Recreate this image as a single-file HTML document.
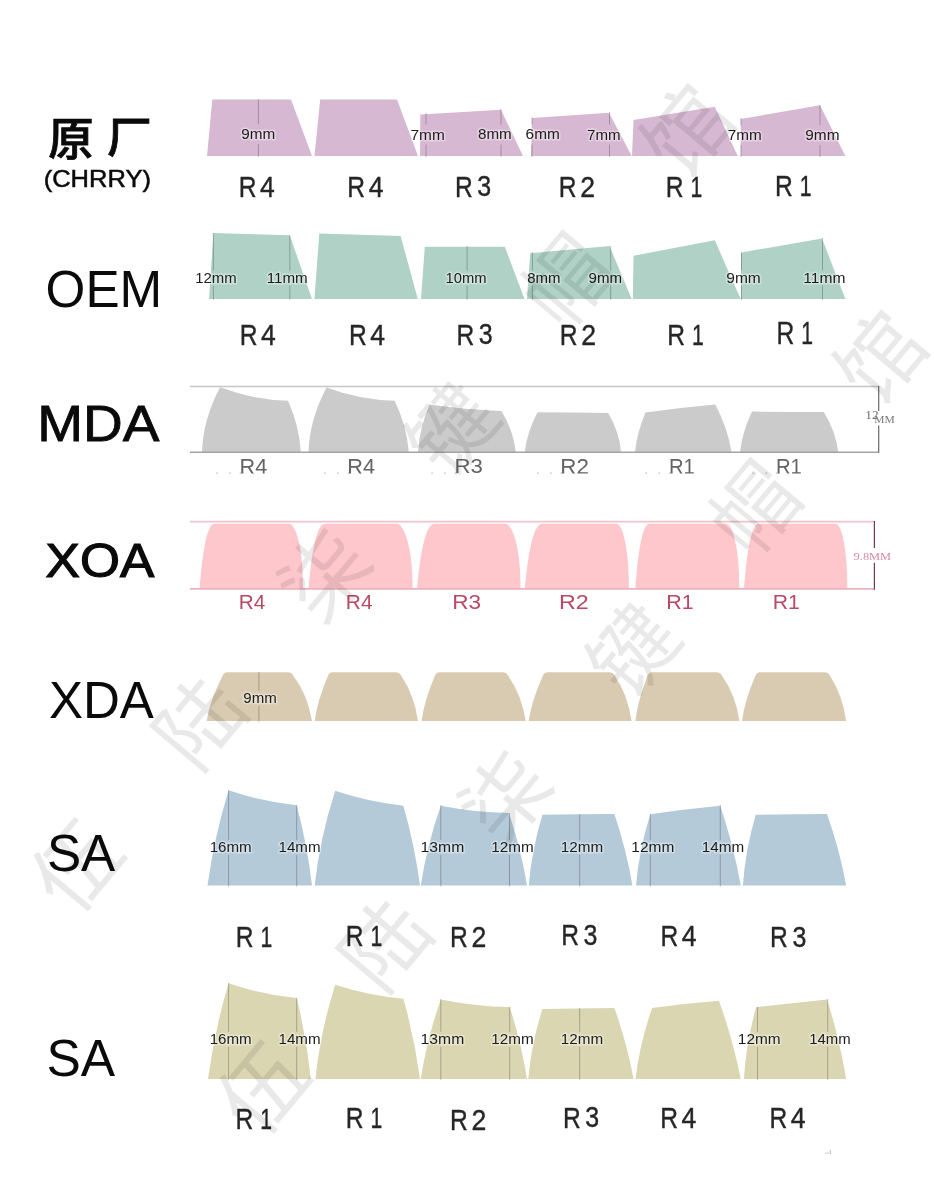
<!DOCTYPE html>
<html><head><meta charset="utf-8"><style>
html,body{margin:0;padding:0;background:#fff;}
body{width:934px;height:1200px;overflow:hidden;}
svg{display:block;}
</style></head><body>
<svg width="934" height="1200" viewBox="0 0 934 1200">
<defs><clipPath id="mdaclip"><rect x="0" y="0" width="934" height="473.4"/></clipPath></defs>
<rect width="934" height="1200" fill="#fff"/>
<path d="M207,156 L212.3,99.4 L291,99.4 L312,156 Z" fill="#d7b8d2"/>
<path d="M314.5,156 L320.2,99.4 L397,99.4 L418,156 Z" fill="#d7b8d2"/>
<path d="M420,156 L420.3,114.6 L501,109.7 L523,156 Z" fill="#d7b8d2"/>
<path d="M531,156 L532,118 L609,112.7 L631.7,156 Z" fill="#d7b8d2"/>
<path d="M632,156 L633.5,120 L714.8,106.7 L737.7,156 Z" fill="#d7b8d2"/>
<path d="M740.7,156 L740.7,119 L820,105.3 L845.4,156 Z" fill="#d7b8d2"/>
<path d="M209,299 L213.4,233.1 L289.8,235.3 L312,299 Z" fill="#b0d1c5"/>
<path d="M314.4,299 L319.3,233.6 L400.6,236 L417.8,299 Z" fill="#b0d1c5"/>
<path d="M421,299 L424.8,246.7 L504.8,246.7 L524.5,299 Z" fill="#b0d1c5"/>
<path d="M527,299 L530.2,253.3 L609.5,246 L631.7,299 Z" fill="#b0d1c5"/>
<path d="M632.8,299 L633.5,255.8 L714.8,240.3 L740.7,299 Z" fill="#b0d1c5"/>
<path d="M741,299 L741,252.6 L822,238.5 L845.4,299 Z" fill="#b0d1c5"/>
<path d="M202,452 Q203,419.6 220,387.3 Q254,400 288,400.7 Q299.4,426.4 300.8,452 Z" fill="#cbcbcb"/>
<path d="M308.5,452 Q309.5,419.8 326.5,387.5 Q360.6,400.1 394.7,400.7 Q406.8,426.4 408.8,452 Z" fill="#cbcbcb"/>
<path d="M418,452 Q419.4,428.3 429.6,404.6 Q465.6,409.8 501.5,411 Q513.6,431.5 515.7,452 Z" fill="#cbcbcb"/>
<path d="M524.7,452 Q527.1,432.1 537.5,412.3 Q572.9,412.6 608.2,413 Q619.6,432.5 621,452 Z" fill="#cbcbcb"/>
<path d="M635,452 Q637,432.2 645.5,412.5 Q680.4,407.4 715.3,404.4 Q727.8,428.2 731.5,452 Z" fill="#cbcbcb"/>
<path d="M740,452 Q742.4,431.8 752,411.6 Q787.9,411.8 823.8,411.9 Q836,431.9 838.2,452 Z" fill="#cbcbcb"/>
<path d="M199.6,588.6 C201.4,565.3 205.5,523.8 214.4,523.8 L289,523.8 C295.3,523.8 303,545.2 303,588.6 Z" fill="#fdc7cc"/>
<path d="M308.5,588.6 C310.5,565.3 315.1,523.8 325,523.8 L396.5,523.8 C403.7,523.8 412.6,545.2 412.6,588.6 Z" fill="#fdc7cc"/>
<path d="M417,588.6 C419.1,565.3 424,523.8 434.4,523.8 L505,523.8 C512,523.8 520.5,545.2 520.5,588.6 Z" fill="#fdc7cc"/>
<path d="M524.8,588.6 C526.9,565.3 531.8,523.8 542.2,523.8 L616.4,523.8 C622,523.8 628.9,545.2 628.9,588.6 Z" fill="#fdc7cc"/>
<path d="M635.3,588.6 C637,565.3 640.9,523.8 649.4,523.8 L726,523.8 C732,523.8 739.3,545.2 739.3,588.6 Z" fill="#fdc7cc"/>
<path d="M744,588.6 C745.8,565.3 749.8,523.8 758.6,523.8 L835.7,523.8 C840.9,523.8 847.3,545.2 847.3,588.6 Z" fill="#fdc7cc"/>
<path d="M206.7,721 Q209.5,701.5 222.8,675.3 Q224,672.3 227.4,672.3 L287.5,672.3 Q291.5,672.3 293,675.3 Q307.9,695.2 312,721 Z" fill="#d9cbb1"/>
<path d="M314.7,721 Q317.1,701.5 328.2,675.3 Q329.4,672.3 332.8,672.3 L395.5,672.3 Q399.5,672.3 401,675.3 Q414.3,695.2 418,721 Z" fill="#d9cbb1"/>
<path d="M421.6,721 Q424,701.5 435.1,675.3 Q436.3,672.3 439.7,672.3 L502.4,672.3 Q506.4,672.3 507.9,675.3 Q521.8,695.2 525.7,721 Z" fill="#d9cbb1"/>
<path d="M528.8,721 Q531.3,701.5 543.1,675.3 Q544.3,672.3 547.7,672.3 L609,672.3 Q613,672.3 614.5,675.3 Q627.9,695.2 631.6,721 Z" fill="#d9cbb1"/>
<path d="M635.4,721 Q637.6,701.5 647.7,675.3 Q648.9,672.3 652.3,672.3 L716.3,672.3 Q720.3,672.3 721.8,675.3 Q735.7,695.2 739.5,721 Z" fill="#d9cbb1"/>
<path d="M742,721 Q744.4,701.5 755.6,675.3 Q756.8,672.3 760.2,672.3 L824.2,672.3 Q828.2,672.3 829.7,675.3 Q842.6,695.2 846.2,721 Z" fill="#d9cbb1"/>
<path d="M207.5,885.4 Q214.1,837.8 228.6,790.3 Q262.6,801.8 296.7,805.2 Q307.4,845.3 312,885.4 Z" fill="#b4cad8"/>
<path d="M314.7,885.4 Q319.9,838.1 335.2,790.8 Q369.3,802.2 403.4,805.7 Q414.7,845.5 420,885.4 Z" fill="#b4cad8"/>
<path d="M420.8,885.4 Q426.8,845.5 440.8,805.7 Q474.9,812.4 509,813 Q521,849.2 527,885.4 Z" fill="#b4cad8"/>
<path d="M528.8,885.4 Q531.6,850 542.4,814.7 Q578.4,814.4 614.4,814 Q626.4,849.7 632.4,885.4 Z" fill="#b4cad8"/>
<path d="M636,885.4 Q639.1,849.8 650.3,814.2 Q685.3,809 720.3,805.7 Q733.5,845.5 740.8,885.4 Z" fill="#b4cad8"/>
<path d="M742.9,885.4 Q745.3,850 755.7,814.7 Q791.4,814.4 827,814 Q839.6,849.7 846.2,885.4 Z" fill="#b4cad8"/>
<path d="M208,1079 Q214.3,1031.1 228.6,983.2 Q262.6,994.7 296.7,998.1 Q306.8,1038.5 310.8,1079 Z" fill="#dad6b2"/>
<path d="M315.4,1079 Q320.3,1031.9 335.2,984.8 Q369.3,995.8 403.4,998.7 Q414.7,1038.8 420,1079 Z" fill="#dad6b2"/>
<path d="M420.8,1079 Q426.8,1039.2 440.8,999.4 Q475.2,1006.2 509.7,1007.1 Q521.4,1043 527,1079 Z" fill="#dad6b2"/>
<path d="M528.3,1079 Q531.3,1044 542.4,1009 Q578.4,1008.5 614.4,1008 Q627,1043.5 633.6,1079 Z" fill="#dad6b2"/>
<path d="M635.4,1079 Q639.8,1043.5 652.1,1007.9 Q685.5,1003.3 719,1000.7 Q732.9,1039.8 740.8,1079 Z" fill="#dad6b2"/>
<path d="M743.9,1079 Q746,1043 756.2,1007.1 Q791.6,1003.2 827,999.4 Q839.6,1039.2 846.2,1079 Z" fill="#dad6b2"/>
<line x1="190" y1="386.6" x2="878.7" y2="386.6" stroke="#c6c6c6" stroke-width="1.5"/>
<line x1="190" y1="452.2" x2="878.7" y2="452.2" stroke="#a3a3a3" stroke-width="1.5"/>
<line x1="878.7" y1="386" x2="878.7" y2="411" stroke="#6a6a6a" stroke-width="1.2"/>
<line x1="878.7" y1="425.5" x2="878.7" y2="452.8" stroke="#6a6a6a" stroke-width="1.2"/>
<rect x="216.2" y="472.6" width="1.6" height="1" fill="#b0b0b0"/>
<rect x="229.2" y="472.6" width="1.6" height="1" fill="#b0b0b0"/>
<rect x="239.7" y="472.6" width="1.6" height="1" fill="#b0b0b0"/>
<rect x="324" y="472.6" width="1.6" height="1" fill="#b0b0b0"/>
<rect x="337" y="472.6" width="1.6" height="1" fill="#b0b0b0"/>
<rect x="347.5" y="472.6" width="1.6" height="1" fill="#b0b0b0"/>
<rect x="431.3" y="472.6" width="1.6" height="1" fill="#b0b0b0"/>
<rect x="444.3" y="472.6" width="1.6" height="1" fill="#b0b0b0"/>
<rect x="454.8" y="472.6" width="1.6" height="1" fill="#b0b0b0"/>
<rect x="537" y="472.6" width="1.6" height="1" fill="#b0b0b0"/>
<rect x="550" y="472.6" width="1.6" height="1" fill="#b0b0b0"/>
<rect x="560.5" y="472.6" width="1.6" height="1" fill="#b0b0b0"/>
<rect x="645.5" y="472.6" width="1.6" height="1" fill="#b0b0b0"/>
<rect x="658.5" y="472.6" width="1.6" height="1" fill="#b0b0b0"/>
<rect x="669" y="472.6" width="1.6" height="1" fill="#b0b0b0"/>
<rect x="752.5" y="472.6" width="1.6" height="1" fill="#b0b0b0"/>
<rect x="765.5" y="472.6" width="1.6" height="1" fill="#b0b0b0"/>
<rect x="776" y="472.6" width="1.6" height="1" fill="#b0b0b0"/>
<rect x="825" y="1152.6" width="4" height="1.2" fill="#d0d0d0"/>
<rect x="829.8" y="1150" width="1" height="4" fill="#b8b8b8"/>
<line x1="190" y1="521.6" x2="874.4" y2="521.6" stroke="#f0c3cb" stroke-width="1.6"/>
<line x1="190" y1="588.9" x2="874.4" y2="588.9" stroke="#eab3bd" stroke-width="1.6"/>
<line x1="874.4" y1="521" x2="874.4" y2="548.1" stroke="#6e3b52" stroke-width="1.2"/>
<line x1="874.4" y1="562.7" x2="874.4" y2="589.7" stroke="#6e3b52" stroke-width="1.2"/>
<line x1="258.4" y1="99" x2="258.4" y2="124" stroke="rgba(0,0,0,0.24)" stroke-width="1"/>
<line x1="258.4" y1="144" x2="258.4" y2="157" stroke="rgba(0,0,0,0.24)" stroke-width="1"/>
<line x1="426" y1="113" x2="426" y2="124.5" stroke="rgba(0,0,0,0.24)" stroke-width="1"/>
<line x1="426" y1="144.5" x2="426" y2="157" stroke="rgba(0,0,0,0.24)" stroke-width="1"/>
<line x1="501" y1="109" x2="501" y2="124.5" stroke="rgba(0,0,0,0.24)" stroke-width="1"/>
<line x1="501" y1="144.5" x2="501" y2="157" stroke="rgba(0,0,0,0.24)" stroke-width="1"/>
<line x1="532" y1="117" x2="532" y2="124.5" stroke="rgba(0,0,0,0.24)" stroke-width="1"/>
<line x1="532" y1="144.5" x2="532" y2="157" stroke="rgba(0,0,0,0.24)" stroke-width="1"/>
<line x1="609.5" y1="112" x2="609.5" y2="124.5" stroke="rgba(0,0,0,0.24)" stroke-width="1"/>
<line x1="609.5" y1="144.5" x2="609.5" y2="157" stroke="rgba(0,0,0,0.24)" stroke-width="1"/>
<line x1="741" y1="118" x2="741" y2="125" stroke="rgba(0,0,0,0.24)" stroke-width="1"/>
<line x1="741" y1="145" x2="741" y2="157" stroke="rgba(0,0,0,0.24)" stroke-width="1"/>
<line x1="820" y1="105" x2="820" y2="125" stroke="rgba(0,0,0,0.24)" stroke-width="1"/>
<line x1="820" y1="145" x2="820" y2="157" stroke="rgba(0,0,0,0.24)" stroke-width="1"/>
<line x1="213.4" y1="233" x2="213.4" y2="270.5" stroke="rgba(0,0,0,0.24)" stroke-width="1"/>
<line x1="213.4" y1="285.5" x2="213.4" y2="300" stroke="rgba(0,0,0,0.24)" stroke-width="1"/>
<line x1="289.8" y1="235" x2="289.8" y2="270.5" stroke="rgba(0,0,0,0.24)" stroke-width="1"/>
<line x1="289.8" y1="285.5" x2="289.8" y2="300" stroke="rgba(0,0,0,0.24)" stroke-width="1"/>
<line x1="741.5" y1="252.6" x2="741.5" y2="270.5" stroke="rgba(0,0,0,0.24)" stroke-width="1"/>
<line x1="741.5" y1="285.5" x2="741.5" y2="300" stroke="rgba(0,0,0,0.24)" stroke-width="1"/>
<line x1="467.1" y1="246" x2="467.1" y2="270.5" stroke="rgba(0,0,0,0.24)" stroke-width="1"/>
<line x1="467.1" y1="285.5" x2="467.1" y2="300" stroke="rgba(0,0,0,0.24)" stroke-width="1"/>
<line x1="532.4" y1="252" x2="532.4" y2="270.5" stroke="rgba(0,0,0,0.24)" stroke-width="1"/>
<line x1="532.4" y1="285.5" x2="532.4" y2="300" stroke="rgba(0,0,0,0.24)" stroke-width="1"/>
<line x1="610.7" y1="246" x2="610.7" y2="270.5" stroke="rgba(0,0,0,0.24)" stroke-width="1"/>
<line x1="610.7" y1="285.5" x2="610.7" y2="300" stroke="rgba(0,0,0,0.24)" stroke-width="1"/>
<line x1="822.5" y1="238" x2="822.5" y2="270.5" stroke="rgba(0,0,0,0.24)" stroke-width="1"/>
<line x1="822.5" y1="285.5" x2="822.5" y2="300" stroke="rgba(0,0,0,0.24)" stroke-width="1"/>
<line x1="258.9" y1="672" x2="258.9" y2="691" stroke="rgba(0,0,0,0.24)" stroke-width="1"/>
<line x1="258.9" y1="706" x2="258.9" y2="722" stroke="rgba(0,0,0,0.24)" stroke-width="1"/>
<line x1="228.6" y1="790" x2="228.6" y2="839.9" stroke="rgba(0,0,0,0.24)" stroke-width="1"/>
<line x1="228.6" y1="854.9" x2="228.6" y2="886.5" stroke="rgba(0,0,0,0.24)" stroke-width="1"/>
<line x1="296.7" y1="805" x2="296.7" y2="839.9" stroke="rgba(0,0,0,0.24)" stroke-width="1"/>
<line x1="296.7" y1="854.9" x2="296.7" y2="886.5" stroke="rgba(0,0,0,0.24)" stroke-width="1"/>
<line x1="440.8" y1="805" x2="440.8" y2="839.9" stroke="rgba(0,0,0,0.24)" stroke-width="1"/>
<line x1="440.8" y1="854.9" x2="440.8" y2="886.5" stroke="rgba(0,0,0,0.24)" stroke-width="1"/>
<line x1="509.5" y1="813" x2="509.5" y2="839.9" stroke="rgba(0,0,0,0.24)" stroke-width="1"/>
<line x1="509.5" y1="854.9" x2="509.5" y2="886.5" stroke="rgba(0,0,0,0.24)" stroke-width="1"/>
<line x1="579.7" y1="814" x2="579.7" y2="839.9" stroke="rgba(0,0,0,0.24)" stroke-width="1"/>
<line x1="579.7" y1="854.9" x2="579.7" y2="886.5" stroke="rgba(0,0,0,0.24)" stroke-width="1"/>
<line x1="650.3" y1="814" x2="650.3" y2="839.9" stroke="rgba(0,0,0,0.24)" stroke-width="1"/>
<line x1="650.3" y1="854.9" x2="650.3" y2="886.5" stroke="rgba(0,0,0,0.24)" stroke-width="1"/>
<line x1="720.3" y1="805" x2="720.3" y2="839.9" stroke="rgba(0,0,0,0.24)" stroke-width="1"/>
<line x1="720.3" y1="854.9" x2="720.3" y2="886.5" stroke="rgba(0,0,0,0.24)" stroke-width="1"/>
<line x1="228.6" y1="983" x2="228.6" y2="1031.8" stroke="rgba(0,0,0,0.24)" stroke-width="1"/>
<line x1="228.6" y1="1046.8" x2="228.6" y2="1080" stroke="rgba(0,0,0,0.24)" stroke-width="1"/>
<line x1="296.7" y1="998" x2="296.7" y2="1031.8" stroke="rgba(0,0,0,0.24)" stroke-width="1"/>
<line x1="296.7" y1="1046.8" x2="296.7" y2="1080" stroke="rgba(0,0,0,0.24)" stroke-width="1"/>
<line x1="440.8" y1="999" x2="440.8" y2="1031.8" stroke="rgba(0,0,0,0.24)" stroke-width="1"/>
<line x1="440.8" y1="1046.8" x2="440.8" y2="1080" stroke="rgba(0,0,0,0.24)" stroke-width="1"/>
<line x1="509.7" y1="1007" x2="509.7" y2="1031.8" stroke="rgba(0,0,0,0.24)" stroke-width="1"/>
<line x1="509.7" y1="1046.8" x2="509.7" y2="1080" stroke="rgba(0,0,0,0.24)" stroke-width="1"/>
<line x1="579.7" y1="1008" x2="579.7" y2="1031.8" stroke="rgba(0,0,0,0.24)" stroke-width="1"/>
<line x1="579.7" y1="1046.8" x2="579.7" y2="1080" stroke="rgba(0,0,0,0.24)" stroke-width="1"/>
<line x1="757.5" y1="1007" x2="757.5" y2="1031.8" stroke="rgba(0,0,0,0.24)" stroke-width="1"/>
<line x1="757.5" y1="1046.8" x2="757.5" y2="1080" stroke="rgba(0,0,0,0.24)" stroke-width="1"/>
<line x1="827.7" y1="999" x2="827.7" y2="1031.8" stroke="rgba(0,0,0,0.24)" stroke-width="1"/>
<line x1="827.7" y1="1046.8" x2="827.7" y2="1080" stroke="rgba(0,0,0,0.24)" stroke-width="1"/>
<text transform="translate(48.29 155.77) scale(1.007 1)" font-family="'Liberation Sans', 'Noto Sans CJK SC', sans-serif" font-weight="500" font-size="45.14" fill="#0a0a0a" stroke="#0a0a0a" stroke-width="0.80">原</text>
<text transform="translate(107.00 153.06) scale(1.037 1)" font-family="'Liberation Sans', 'Noto Sans CJK SC', sans-serif" font-weight="500" font-size="43.09" fill="#0a0a0a" stroke="#0a0a0a" stroke-width="0.80">厂</text>
<text transform="translate(43.65 187.06) scale(1.077 1)" font-family="'Liberation Sans', sans-serif" font-weight="400" font-size="23.71" fill="#0a0a0a" stroke="#0a0a0a" stroke-width="0.50">(CHRRY)</text>
<text transform="translate(45.60 307.39) scale(0.987 1)" font-family="'Liberation Sans', sans-serif" font-weight="400" font-size="51.90" fill="#0a0a0a">OEM</text>
<text transform="translate(37.20 441.30) scale(1.118 1)" font-family="'Liberation Sans', sans-serif" font-weight="400" font-size="49.21" fill="#0a0a0a" stroke="#0a0a0a" stroke-width="0.80">MDA</text>
<text transform="translate(45.60 577.44) scale(1.062 1)" font-family="'Liberation Sans', sans-serif" font-weight="400" font-size="48.42" fill="#0a0a0a" stroke="#0a0a0a" stroke-width="1.20">XOA</text>
<text transform="translate(48.90 718.00) scale(0.986 1)" font-family="'Liberation Sans', sans-serif" font-weight="400" font-size="51.77" fill="#0a0a0a">XDA</text>
<text transform="translate(46.90 870.89) scale(0.994 1)" font-family="'Liberation Sans', sans-serif" font-weight="400" font-size="51.62" fill="#0a0a0a">SA</text>
<text transform="translate(46.39 1075.98) scale(0.984 1)" font-family="'Liberation Sans', sans-serif" font-weight="400" font-size="52.31" fill="#0a0a0a">SA</text>
<text transform="translate(238.68 196.50) scale(0.816 1)" font-family="'Liberation Sans', sans-serif" font-weight="400" font-size="30.15" fill="#262626" stroke="#262626" stroke-width="0.40">R</text>
<text transform="translate(260.08 196.50) scale(0.881 1)" font-family="'Liberation Sans', sans-serif" font-weight="400" font-size="30.15" fill="#262626" stroke="#262626" stroke-width="0.40">4</text>
<text transform="translate(347.28 196.50) scale(0.816 1)" font-family="'Liberation Sans', sans-serif" font-weight="400" font-size="30.15" fill="#262626" stroke="#262626" stroke-width="0.40">R</text>
<text transform="translate(368.68 196.50) scale(0.881 1)" font-family="'Liberation Sans', sans-serif" font-weight="400" font-size="30.15" fill="#262626" stroke="#262626" stroke-width="0.40">4</text>
<text transform="translate(454.88 196.50) scale(0.816 1)" font-family="'Liberation Sans', sans-serif" font-weight="400" font-size="30.15" fill="#262626" stroke="#262626" stroke-width="0.40">R</text>
<text transform="translate(477.22 196.04) scale(0.847 1)" font-family="'Liberation Sans', sans-serif" font-weight="400" font-size="29.50" fill="#262626" stroke="#262626" stroke-width="0.40">3</text>
<text transform="translate(558.68 196.50) scale(0.816 1)" font-family="'Liberation Sans', sans-serif" font-weight="400" font-size="30.15" fill="#262626" stroke="#262626" stroke-width="0.40">R</text>
<text transform="translate(580.15 196.50) scale(0.884 1)" font-family="'Liberation Sans', sans-serif" font-weight="400" font-size="30.15" fill="#262626" stroke="#262626" stroke-width="0.40">2</text>
<text transform="translate(665.68 196.50) scale(0.816 1)" font-family="'Liberation Sans', sans-serif" font-weight="400" font-size="30.15" fill="#262626" stroke="#262626" stroke-width="0.40">R</text>
<text transform="translate(690.48 196.50) scale(0.703 1)" font-family="'Liberation Sans', sans-serif" font-weight="400" font-size="30.15" fill="#262626" stroke="#262626" stroke-width="0.40">1</text>
<text transform="translate(774.88 195.80) scale(0.816 1)" font-family="'Liberation Sans', sans-serif" font-weight="400" font-size="30.15" fill="#262626" stroke="#262626" stroke-width="0.40">R</text>
<text transform="translate(799.68 195.80) scale(0.703 1)" font-family="'Liberation Sans', sans-serif" font-weight="400" font-size="30.15" fill="#262626" stroke="#262626" stroke-width="0.40">1</text>
<text transform="translate(239.68 344.80) scale(0.820 1)" font-family="'Liberation Sans', sans-serif" font-weight="400" font-size="30.01" fill="#262626" stroke="#262626" stroke-width="0.40">R</text>
<text transform="translate(261.08 344.80) scale(0.885 1)" font-family="'Liberation Sans', sans-serif" font-weight="400" font-size="30.01" fill="#262626" stroke="#262626" stroke-width="0.40">4</text>
<text transform="translate(348.88 344.80) scale(0.820 1)" font-family="'Liberation Sans', sans-serif" font-weight="400" font-size="30.01" fill="#262626" stroke="#262626" stroke-width="0.40">R</text>
<text transform="translate(370.28 344.80) scale(0.885 1)" font-family="'Liberation Sans', sans-serif" font-weight="400" font-size="30.01" fill="#262626" stroke="#262626" stroke-width="0.40">4</text>
<text transform="translate(456.48 344.80) scale(0.820 1)" font-family="'Liberation Sans', sans-serif" font-weight="400" font-size="30.01" fill="#262626" stroke="#262626" stroke-width="0.40">R</text>
<text transform="translate(478.82 344.34) scale(0.851 1)" font-family="'Liberation Sans', sans-serif" font-weight="400" font-size="29.36" fill="#262626" stroke="#262626" stroke-width="0.40">3</text>
<text transform="translate(559.68 344.80) scale(0.820 1)" font-family="'Liberation Sans', sans-serif" font-weight="400" font-size="30.01" fill="#262626" stroke="#262626" stroke-width="0.40">R</text>
<text transform="translate(581.15 344.80) scale(0.889 1)" font-family="'Liberation Sans', sans-serif" font-weight="400" font-size="30.01" fill="#262626" stroke="#262626" stroke-width="0.40">2</text>
<text transform="translate(667.28 344.80) scale(0.820 1)" font-family="'Liberation Sans', sans-serif" font-weight="400" font-size="30.01" fill="#262626" stroke="#262626" stroke-width="0.40">R</text>
<text transform="translate(692.08 344.80) scale(0.706 1)" font-family="'Liberation Sans', sans-serif" font-weight="400" font-size="30.01" fill="#262626" stroke="#262626" stroke-width="0.40">1</text>
<text transform="translate(776.48 344.00) scale(0.809 1)" font-family="'Liberation Sans', sans-serif" font-weight="400" font-size="30.44" fill="#262626" stroke="#262626" stroke-width="0.40">R</text>
<text transform="translate(801.28 344.00) scale(0.696 1)" font-family="'Liberation Sans', sans-serif" font-weight="400" font-size="30.44" fill="#262626" stroke="#262626" stroke-width="0.40">1</text>
<g clip-path="url(#mdaclip)"><text transform="translate(239.50 473.60) scale(1.017 1)" font-family="'Liberation Sans', sans-serif" font-weight="400" font-size="21.33" fill="#646464">R4</text></g>
<g clip-path="url(#mdaclip)"><text transform="translate(347.30 473.60) scale(1.017 1)" font-family="'Liberation Sans', sans-serif" font-weight="400" font-size="21.33" fill="#646464">R4</text></g>
<g clip-path="url(#mdaclip)"><text transform="translate(454.57 473.27) scale(1.062 1)" font-family="'Liberation Sans', sans-serif" font-weight="400" font-size="20.87" fill="#646464">R3</text></g>
<g clip-path="url(#mdaclip)"><text transform="translate(560.25 473.60) scale(1.051 1)" font-family="'Liberation Sans', sans-serif" font-weight="400" font-size="21.33" fill="#646464">R2</text></g>
<g clip-path="url(#mdaclip)"><text transform="translate(668.92 473.60) scale(0.950 1)" font-family="'Liberation Sans', sans-serif" font-weight="400" font-size="21.33" fill="#646464">R1</text></g>
<g clip-path="url(#mdaclip)"><text transform="translate(775.92 473.60) scale(0.950 1)" font-family="'Liberation Sans', sans-serif" font-weight="400" font-size="21.33" fill="#646464">R1</text></g>
<text transform="translate(238.78 609.00) scale(1.028 1)" font-family="'Liberation Sans', sans-serif" font-weight="400" font-size="20.20" fill="#bb4864">R4</text>
<text transform="translate(345.87 609.00) scale(1.032 1)" font-family="'Liberation Sans', sans-serif" font-weight="400" font-size="20.20" fill="#bb4864">R4</text>
<text transform="translate(452.23 608.69) scale(1.144 1)" font-family="'Liberation Sans', sans-serif" font-weight="400" font-size="19.76" fill="#bb4864">R3</text>
<text transform="translate(558.88 609.00) scale(1.153 1)" font-family="'Liberation Sans', sans-serif" font-weight="400" font-size="20.20" fill="#bb4864">R2</text>
<text transform="translate(666.33 609.00) scale(1.059 1)" font-family="'Liberation Sans', sans-serif" font-weight="400" font-size="20.20" fill="#bb4864">R1</text>
<text transform="translate(772.74 609.00) scale(1.050 1)" font-family="'Liberation Sans', sans-serif" font-weight="400" font-size="20.20" fill="#bb4864">R1</text>
<text transform="translate(235.68 947.40) scale(0.820 1)" font-family="'Liberation Sans', sans-serif" font-weight="400" font-size="30.01" fill="#262626" stroke="#262626" stroke-width="0.40">R</text>
<text transform="translate(260.48 947.40) scale(0.706 1)" font-family="'Liberation Sans', sans-serif" font-weight="400" font-size="30.01" fill="#262626" stroke="#262626" stroke-width="0.40">1</text>
<text transform="translate(345.68 946.30) scale(0.836 1)" font-family="'Liberation Sans', sans-serif" font-weight="400" font-size="29.44" fill="#262626" stroke="#262626" stroke-width="0.40">R</text>
<text transform="translate(370.48 946.30) scale(0.720 1)" font-family="'Liberation Sans', sans-serif" font-weight="400" font-size="29.44" fill="#262626" stroke="#262626" stroke-width="0.40">1</text>
<text transform="translate(449.98 947.40) scale(0.820 1)" font-family="'Liberation Sans', sans-serif" font-weight="400" font-size="30.01" fill="#262626" stroke="#262626" stroke-width="0.40">R</text>
<text transform="translate(471.45 947.40) scale(0.889 1)" font-family="'Liberation Sans', sans-serif" font-weight="400" font-size="30.01" fill="#262626" stroke="#262626" stroke-width="0.40">2</text>
<text transform="translate(561.28 945.30) scale(0.820 1)" font-family="'Liberation Sans', sans-serif" font-weight="400" font-size="30.01" fill="#262626" stroke="#262626" stroke-width="0.40">R</text>
<text transform="translate(583.62 944.84) scale(0.851 1)" font-family="'Liberation Sans', sans-serif" font-weight="400" font-size="29.36" fill="#262626" stroke="#262626" stroke-width="0.40">3</text>
<text transform="translate(660.38 945.60) scale(0.832 1)" font-family="'Liberation Sans', sans-serif" font-weight="400" font-size="29.58" fill="#262626" stroke="#262626" stroke-width="0.40">R</text>
<text transform="translate(681.78 945.60) scale(0.898 1)" font-family="'Liberation Sans', sans-serif" font-weight="400" font-size="29.58" fill="#262626" stroke="#262626" stroke-width="0.40">4</text>
<text transform="translate(770.08 947.00) scale(0.832 1)" font-family="'Liberation Sans', sans-serif" font-weight="400" font-size="29.58" fill="#262626" stroke="#262626" stroke-width="0.40">R</text>
<text transform="translate(792.42 946.55) scale(0.863 1)" font-family="'Liberation Sans', sans-serif" font-weight="400" font-size="28.94" fill="#262626" stroke="#262626" stroke-width="0.40">3</text>
<text transform="translate(235.48 1129.20) scale(0.840 1)" font-family="'Liberation Sans', sans-serif" font-weight="400" font-size="29.30" fill="#262626" stroke="#262626" stroke-width="0.40">R</text>
<text transform="translate(260.28 1129.20) scale(0.723 1)" font-family="'Liberation Sans', sans-serif" font-weight="400" font-size="29.30" fill="#262626" stroke="#262626" stroke-width="0.40">1</text>
<text transform="translate(345.68 1128.00) scale(0.853 1)" font-family="'Liberation Sans', sans-serif" font-weight="400" font-size="28.87" fill="#262626" stroke="#262626" stroke-width="0.40">R</text>
<text transform="translate(370.48 1128.00) scale(0.734 1)" font-family="'Liberation Sans', sans-serif" font-weight="400" font-size="28.87" fill="#262626" stroke="#262626" stroke-width="0.40">1</text>
<text transform="translate(450.08 1130.20) scale(0.857 1)" font-family="'Liberation Sans', sans-serif" font-weight="400" font-size="28.73" fill="#262626" stroke="#262626" stroke-width="0.40">R</text>
<text transform="translate(471.55 1130.20) scale(0.928 1)" font-family="'Liberation Sans', sans-serif" font-weight="400" font-size="28.73" fill="#262626" stroke="#262626" stroke-width="0.40">2</text>
<text transform="translate(562.88 1127.80) scale(0.824 1)" font-family="'Liberation Sans', sans-serif" font-weight="400" font-size="29.87" fill="#262626" stroke="#262626" stroke-width="0.40">R</text>
<text transform="translate(585.22 1127.34) scale(0.855 1)" font-family="'Liberation Sans', sans-serif" font-weight="400" font-size="29.22" fill="#262626" stroke="#262626" stroke-width="0.40">3</text>
<text transform="translate(660.18 1127.80) scale(0.824 1)" font-family="'Liberation Sans', sans-serif" font-weight="400" font-size="29.87" fill="#262626" stroke="#262626" stroke-width="0.40">R</text>
<text transform="translate(681.58 1127.80) scale(0.890 1)" font-family="'Liberation Sans', sans-serif" font-weight="400" font-size="29.87" fill="#262626" stroke="#262626" stroke-width="0.40">4</text>
<text transform="translate(769.38 1128.40) scale(0.840 1)" font-family="'Liberation Sans', sans-serif" font-weight="400" font-size="29.30" fill="#262626" stroke="#262626" stroke-width="0.40">R</text>
<text transform="translate(790.78 1128.40) scale(0.907 1)" font-family="'Liberation Sans', sans-serif" font-weight="400" font-size="29.30" fill="#262626" stroke="#262626" stroke-width="0.40">4</text>
<text transform="translate(865.36 419.10) scale(0.990 1)" font-family="'Liberation Serif', serif" font-weight="400" font-size="13.40" fill="#707070">12</text>
<text transform="translate(874.32 423.00) scale(1.099 1)" font-family="'Liberation Serif', serif" font-weight="400" font-size="10.51" fill="#7a7a7a">MM</text>
<text transform="translate(853.61 559.53) scale(1.107 1)" font-family="'Liberation Serif', serif" font-weight="400" font-size="11.20" fill="#d88aa4">9.8MM</text>
<text transform="translate(241.18 138.78) scale(1.100 1)" font-family="'Liberation Sans', sans-serif" font-weight="400" font-size="13.91" fill="#1c1c1c" stroke="rgba(255,255,255,0.35)" stroke-width="3" stroke-linejoin="round" paint-order="stroke">9mm</text>
<text transform="translate(410.48 139.50) scale(1.086 1)" font-family="'Liberation Sans', sans-serif" font-weight="400" font-size="14.22" fill="#1c1c1c" stroke="rgba(255,255,255,0.35)" stroke-width="3" stroke-linejoin="round" paint-order="stroke">7mm</text>
<text transform="translate(478.03 139.28) scale(1.092 1)" font-family="'Liberation Sans', sans-serif" font-weight="400" font-size="13.91" fill="#1c1c1c" stroke="rgba(255,255,255,0.35)" stroke-width="3" stroke-linejoin="round" paint-order="stroke">8mm</text>
<text transform="translate(525.58 139.28) scale(1.107 1)" font-family="'Liberation Sans', sans-serif" font-weight="400" font-size="13.91" fill="#1c1c1c" stroke="rgba(255,255,255,0.35)" stroke-width="3" stroke-linejoin="round" paint-order="stroke">6mm</text>
<text transform="translate(587.09 139.50) scale(1.063 1)" font-family="'Liberation Sans', sans-serif" font-weight="400" font-size="14.22" fill="#1c1c1c" stroke="rgba(255,255,255,0.35)" stroke-width="3" stroke-linejoin="round" paint-order="stroke">7mm</text>
<text transform="translate(727.68 140.00) scale(1.076 1)" font-family="'Liberation Sans', sans-serif" font-weight="400" font-size="14.22" fill="#1c1c1c" stroke="rgba(255,255,255,0.35)" stroke-width="3" stroke-linejoin="round" paint-order="stroke">7mm</text>
<text transform="translate(805.28 139.78) scale(1.107 1)" font-family="'Liberation Sans', sans-serif" font-weight="400" font-size="13.91" fill="#1c1c1c" stroke="rgba(255,255,255,0.35)" stroke-width="3" stroke-linejoin="round" paint-order="stroke">9mm</text>
<text transform="translate(195.27 283.00) scale(1.050 1)" font-family="'Liberation Sans', sans-serif" font-weight="400" font-size="14.22" fill="#1c1c1c" stroke="rgba(255,255,255,0.35)" stroke-width="3" stroke-linejoin="round" paint-order="stroke">12mm</text>
<text transform="translate(266.65 283.00) scale(1.070 1)" font-family="'Liberation Sans', sans-serif" font-weight="400" font-size="14.22" fill="#1c1c1c" stroke="rgba(255,255,255,0.35)" stroke-width="3" stroke-linejoin="round" paint-order="stroke">11mm</text>
<text transform="translate(445.58 282.78) scale(1.063 1)" font-family="'Liberation Sans', sans-serif" font-weight="400" font-size="13.91" fill="#1c1c1c" stroke="rgba(255,255,255,0.35)" stroke-width="3" stroke-linejoin="round" paint-order="stroke">10mm</text>
<text transform="translate(527.23 282.78) scale(1.079 1)" font-family="'Liberation Sans', sans-serif" font-weight="400" font-size="13.91" fill="#1c1c1c" stroke="rgba(255,255,255,0.35)" stroke-width="3" stroke-linejoin="round" paint-order="stroke">8mm</text>
<text transform="translate(588.59 282.78) scale(1.083 1)" font-family="'Liberation Sans', sans-serif" font-weight="400" font-size="13.91" fill="#1c1c1c" stroke="rgba(255,255,255,0.35)" stroke-width="3" stroke-linejoin="round" paint-order="stroke">9mm</text>
<text transform="translate(726.27 282.78) scale(1.117 1)" font-family="'Liberation Sans', sans-serif" font-weight="400" font-size="13.91" fill="#1c1c1c" stroke="rgba(255,255,255,0.35)" stroke-width="3" stroke-linejoin="round" paint-order="stroke">9mm</text>
<text transform="translate(803.23 283.00) scale(1.097 1)" font-family="'Liberation Sans', sans-serif" font-weight="400" font-size="14.22" fill="#1c1c1c" stroke="rgba(255,255,255,0.35)" stroke-width="3" stroke-linejoin="round" paint-order="stroke">11mm</text>
<text transform="translate(243.29 703.28) scale(1.083 1)" font-family="'Liberation Sans', sans-serif" font-weight="400" font-size="13.91" fill="#1c1c1c" stroke="rgba(255,255,255,0.35)" stroke-width="3" stroke-linejoin="round" paint-order="stroke">9mm</text>
<text transform="translate(209.65 852.18) scale(1.090 1)" font-family="'Liberation Sans', sans-serif" font-weight="400" font-size="13.91" fill="#1c1c1c" stroke="rgba(255,255,255,0.35)" stroke-width="3" stroke-linejoin="round" paint-order="stroke">16mm</text>
<text transform="translate(278.55 852.40) scale(1.064 1)" font-family="'Liberation Sans', sans-serif" font-weight="400" font-size="14.22" fill="#1c1c1c" stroke="rgba(255,255,255,0.35)" stroke-width="3" stroke-linejoin="round" paint-order="stroke">14mm</text>
<text transform="translate(420.62 852.18) scale(1.130 1)" font-family="'Liberation Sans', sans-serif" font-weight="400" font-size="13.91" fill="#1c1c1c" stroke="rgba(255,255,255,0.35)" stroke-width="3" stroke-linejoin="round" paint-order="stroke">13mm</text>
<text transform="translate(491.35 852.40) scale(1.072 1)" font-family="'Liberation Sans', sans-serif" font-weight="400" font-size="14.22" fill="#1c1c1c" stroke="rgba(255,255,255,0.35)" stroke-width="3" stroke-linejoin="round" paint-order="stroke">12mm</text>
<text transform="translate(560.75 852.40) scale(1.072 1)" font-family="'Liberation Sans', sans-serif" font-weight="400" font-size="14.22" fill="#1c1c1c" stroke="rgba(255,255,255,0.35)" stroke-width="3" stroke-linejoin="round" paint-order="stroke">12mm</text>
<text transform="translate(631.33 852.40) scale(1.087 1)" font-family="'Liberation Sans', sans-serif" font-weight="400" font-size="14.22" fill="#1c1c1c" stroke="rgba(255,255,255,0.35)" stroke-width="3" stroke-linejoin="round" paint-order="stroke">12mm</text>
<text transform="translate(701.85 852.40) scale(1.072 1)" font-family="'Liberation Sans', sans-serif" font-weight="400" font-size="14.22" fill="#1c1c1c" stroke="rgba(255,255,255,0.35)" stroke-width="3" stroke-linejoin="round" paint-order="stroke">14mm</text>
<text transform="translate(209.65 1044.08) scale(1.090 1)" font-family="'Liberation Sans', sans-serif" font-weight="400" font-size="13.91" fill="#1c1c1c" stroke="rgba(255,255,255,0.35)" stroke-width="3" stroke-linejoin="round" paint-order="stroke">16mm</text>
<text transform="translate(278.55 1044.30) scale(1.064 1)" font-family="'Liberation Sans', sans-serif" font-weight="400" font-size="14.22" fill="#1c1c1c" stroke="rgba(255,255,255,0.35)" stroke-width="3" stroke-linejoin="round" paint-order="stroke">14mm</text>
<text transform="translate(420.62 1044.08) scale(1.130 1)" font-family="'Liberation Sans', sans-serif" font-weight="400" font-size="13.91" fill="#1c1c1c" stroke="rgba(255,255,255,0.35)" stroke-width="3" stroke-linejoin="round" paint-order="stroke">13mm</text>
<text transform="translate(491.35 1044.30) scale(1.072 1)" font-family="'Liberation Sans', sans-serif" font-weight="400" font-size="14.22" fill="#1c1c1c" stroke="rgba(255,255,255,0.35)" stroke-width="3" stroke-linejoin="round" paint-order="stroke">12mm</text>
<text transform="translate(560.75 1044.30) scale(1.072 1)" font-family="'Liberation Sans', sans-serif" font-weight="400" font-size="14.22" fill="#1c1c1c" stroke="rgba(255,255,255,0.35)" stroke-width="3" stroke-linejoin="round" paint-order="stroke">12mm</text>
<text transform="translate(737.84 1044.30) scale(1.085 1)" font-family="'Liberation Sans', sans-serif" font-weight="400" font-size="14.22" fill="#1c1c1c" stroke="rgba(255,255,255,0.35)" stroke-width="3" stroke-linejoin="round" paint-order="stroke">12mm</text>
<text transform="translate(809.27 1044.30) scale(1.050 1)" font-family="'Liberation Sans', sans-serif" font-weight="400" font-size="14.22" fill="#1c1c1c" stroke="rgba(255,255,255,0.35)" stroke-width="3" stroke-linejoin="round" paint-order="stroke">14mm</text>
<text transform="translate(78.0 866.9) rotate(-50.0)" x="0" y="0" text-anchor="middle" dominant-baseline="central" font-family="'Liberation Sans', 'Noto Sans CJK SC', sans-serif" font-weight="400" font-size="85" fill="rgba(0,0,0,0.085)">伍</text>
<text transform="translate(201.1 723.5) rotate(-50.0)" x="0" y="0" text-anchor="middle" dominant-baseline="central" font-family="'Liberation Sans', 'Noto Sans CJK SC', sans-serif" font-weight="400" font-size="85" fill="rgba(0,0,0,0.085)">陆</text>
<text transform="translate(326.5 575.9) rotate(-50.0)" x="0" y="0" text-anchor="middle" dominant-baseline="central" font-family="'Liberation Sans', 'Noto Sans CJK SC', sans-serif" font-weight="400" font-size="85" fill="rgba(0,0,0,0.085)">柒</text>
<text transform="translate(453.1 430.0) rotate(-50.0)" x="0" y="0" text-anchor="middle" dominant-baseline="central" font-family="'Liberation Sans', 'Noto Sans CJK SC', sans-serif" font-weight="400" font-size="85" fill="rgba(0,0,0,0.085)">键</text>
<text transform="translate(568.5 282.0) rotate(-50.0)" x="0" y="0" text-anchor="middle" dominant-baseline="central" font-family="'Liberation Sans', 'Noto Sans CJK SC', sans-serif" font-weight="400" font-size="85" fill="rgba(0,0,0,0.085)">帽</text>
<text transform="translate(688.5 132.0) rotate(-50.0)" x="0" y="0" text-anchor="middle" dominant-baseline="central" font-family="'Liberation Sans', 'Noto Sans CJK SC', sans-serif" font-weight="400" font-size="85" fill="rgba(0,0,0,0.085)">馆</text>
<text transform="translate(264.0 1089.6) rotate(-50.0)" x="0" y="0" text-anchor="middle" dominant-baseline="central" font-family="'Liberation Sans', 'Noto Sans CJK SC', sans-serif" font-weight="400" font-size="85" fill="rgba(0,0,0,0.085)">伍</text>
<text transform="translate(386.8 945.5) rotate(-50.0)" x="0" y="0" text-anchor="middle" dominant-baseline="central" font-family="'Liberation Sans', 'Noto Sans CJK SC', sans-serif" font-weight="400" font-size="85" fill="rgba(0,0,0,0.085)">陆</text>
<text transform="translate(507.0 798.0) rotate(-50.0)" x="0" y="0" text-anchor="middle" dominant-baseline="central" font-family="'Liberation Sans', 'Noto Sans CJK SC', sans-serif" font-weight="400" font-size="85" fill="rgba(0,0,0,0.085)">柒</text>
<text transform="translate(634.5 651.0) rotate(-50.0)" x="0" y="0" text-anchor="middle" dominant-baseline="central" font-family="'Liberation Sans', 'Noto Sans CJK SC', sans-serif" font-weight="400" font-size="85" fill="rgba(0,0,0,0.085)">键</text>
<text transform="translate(756.2 509.6) rotate(-50.0)" x="0" y="0" text-anchor="middle" dominant-baseline="central" font-family="'Liberation Sans', 'Noto Sans CJK SC', sans-serif" font-weight="400" font-size="85" fill="rgba(0,0,0,0.085)">帽</text>
<text transform="translate(881.8 358.6) rotate(-50.0)" x="0" y="0" text-anchor="middle" dominant-baseline="central" font-family="'Liberation Sans', 'Noto Sans CJK SC', sans-serif" font-weight="400" font-size="85" fill="rgba(0,0,0,0.085)">馆</text>
</svg>
</body></html>
